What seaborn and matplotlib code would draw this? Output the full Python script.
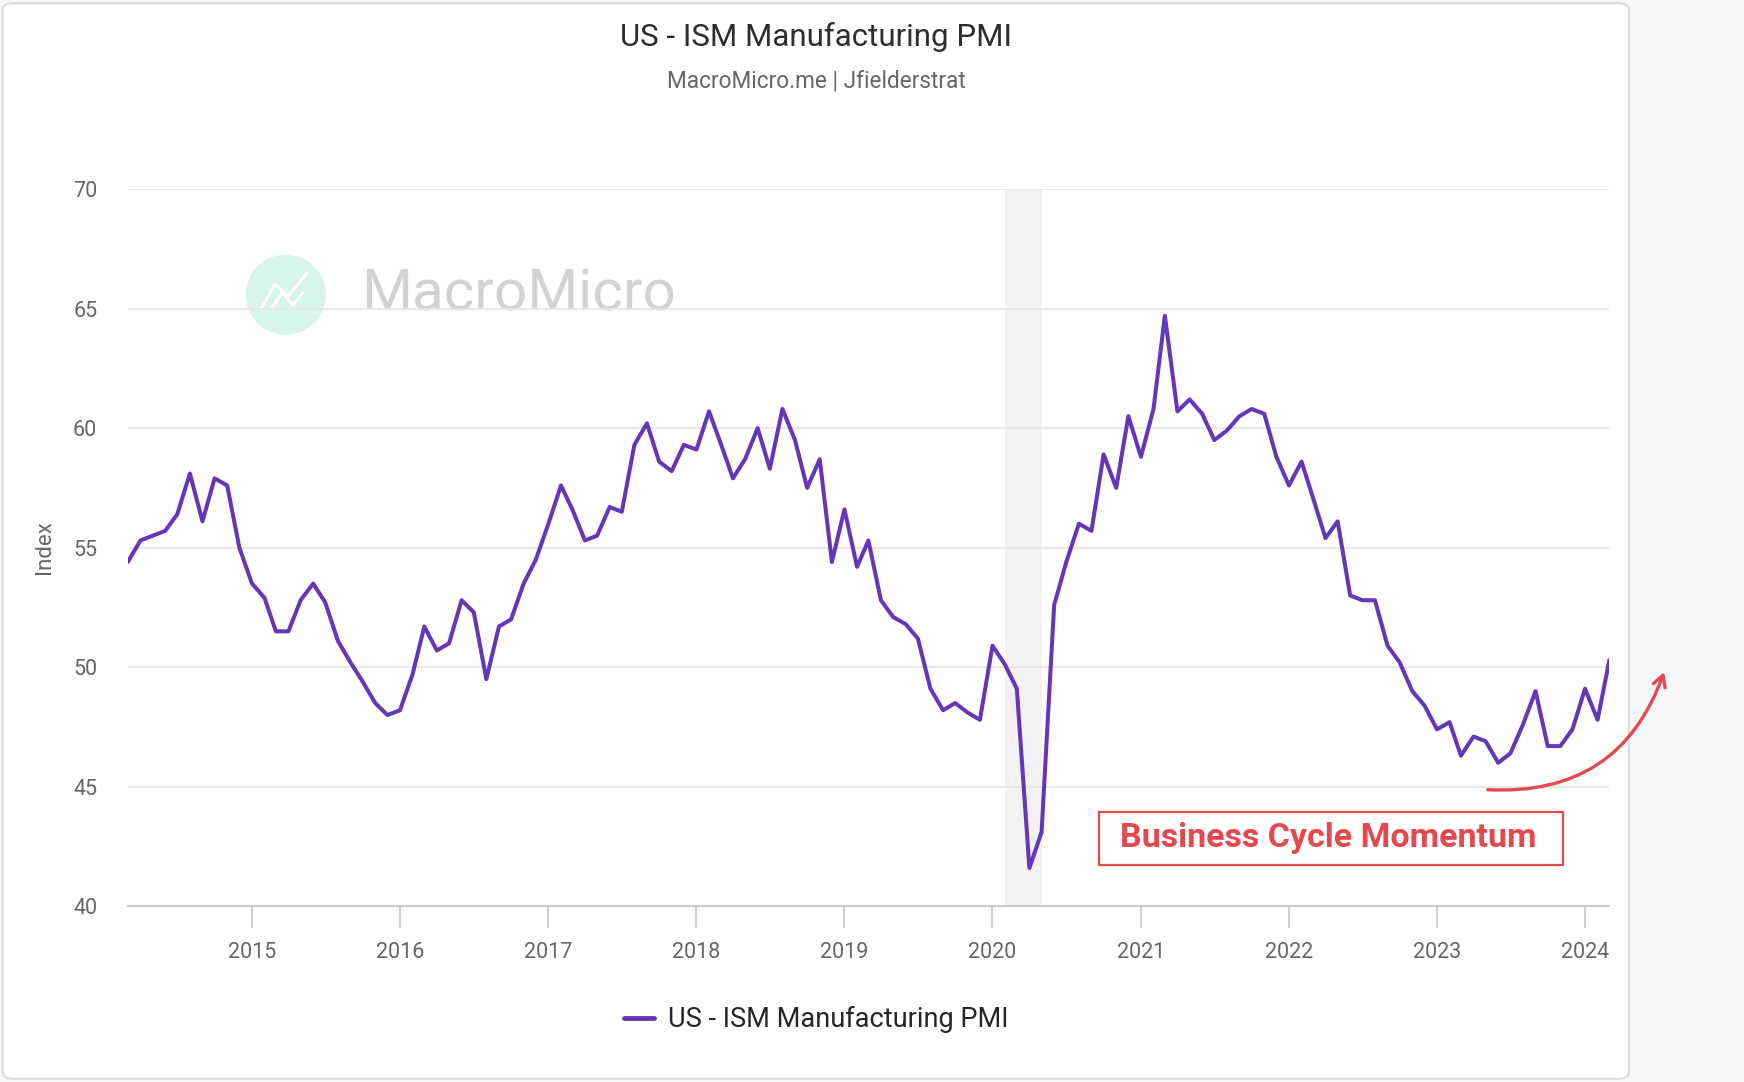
import numpy as np
import pandas as pd
import matplotlib
matplotlib.use("Agg")
import matplotlib.pyplot as plt
import seaborn as sns
from matplotlib.patches import FancyBboxPatch, Rectangle, Ellipse, FancyArrowPatch
from matplotlib.lines import Line2D

# ---------------- data ----------------
start_month = "2014-03-01"
pmi = [
    54.4, 55.3, 55.5, 55.7, 56.4, 58.1, 56.1, 57.9, 57.6, 55.0,              # 2014 Mar-Dec
    53.5, 52.9, 51.5, 51.5, 52.8, 53.5, 52.7, 51.1, 50.2, 49.4, 48.5, 48.0,  # 2015
    48.2, 49.7, 51.7, 50.7, 51.0, 52.8, 52.3, 49.5, 51.7, 52.0, 53.5, 54.5,  # 2016
    56.0, 57.6, 56.6, 55.3, 55.5, 56.7, 56.5, 59.3, 60.2, 58.6, 58.2, 59.3,  # 2017
    59.1, 60.7, 59.4, 57.9, 58.7, 60.0, 58.3, 60.8, 59.5, 57.5, 58.7, 54.4,  # 2018
    56.6, 54.2, 55.3, 52.8, 52.1, 51.8, 51.2, 49.1, 48.2, 48.5, 48.1, 47.8,  # 2019
    50.9, 50.1, 49.1, 41.6, 43.1, 52.6, 54.4, 56.0, 55.7, 58.9, 57.5, 60.5,  # 2020
    58.8, 60.8, 64.7, 60.7, 61.2, 60.6, 59.5, 59.9, 60.5, 60.8, 60.6, 58.8,  # 2021
    57.6, 58.6, 57.1, 55.4, 56.1, 53.0, 52.8, 52.8, 50.9, 50.2, 49.0, 48.4,  # 2022
    47.4, 47.7, 46.3, 47.1, 46.9, 46.0, 46.4, 47.6, 49.0, 46.7, 46.7, 47.4,  # 2023
    49.1, 47.8, 50.3,                                                        # 2024 Jan-Mar
]
series_name = "US - ISM Manufacturing PMI"
recession_start = "2020-02-01"
recession_end = "2020-05-01"
year_ticks = [2015, 2016, 2017, 2018, 2019, 2020, 2021, 2022, 2023, 2024]
y_ticks = [40, 45, 50, 55, 60, 65, 70]

dates = pd.date_range(start_month, periods=len(pmi), freq="MS")
df = pd.DataFrame({"date": dates, "value": pmi, "series": series_name})

# ---------------- style ----------------
sns.set_theme(style="white")
plt.rcParams["font.family"] = ["Roboto", "DejaVu Sans"]

LINE = "#6536b8"
RED = "#e5484d"
GRAY_TXT = "#666666"

fig = plt.figure(figsize=(17.44, 10.82), dpi=100)
fig.patch.set_facecolor("#f7f8fa")

# card background
card = FancyBboxPatch((0.0015, 0.003), 0.9325, 0.994,
                      boxstyle="round,pad=0,rounding_size=0.006",
                      transform=fig.transFigure, facecolor="white",
                      edgecolor="#dcdcdc", linewidth=1.5, zorder=-5)
fig.patches.append(card)

ax = fig.add_axes([0.0733, 0.1624, 0.8495, 0.6629])
ax.set_facecolor("none")
ax.set_zorder(2)

ax.axvspan(pd.Timestamp(recession_start), pd.Timestamp(recession_end),
           color="#f2f2f2", zorder=0, lw=0)

sns.lineplot(data=df, x="date", y="value", ax=ax, color=LINE,
             linewidth=2.9, legend=False, zorder=3)

ax.set_xlim(dates[0], dates[-1])
ax.set_ylim(40, 70)
ax.set_yticks(y_ticks)
ax.set_yticklabels([str(v) for v in y_ticks])
ax.set_xticks([pd.Timestamp(f"{y}-01-01") for y in year_ticks])
ax.set_xticklabels([str(y) for y in year_ticks])
ax.grid(axis="y", color="#e6e6e6", linewidth=1.3, zorder=1)
ax.grid(axis="x", visible=False)
ax.set_axisbelow(True)
for s in ["top", "right", "left"]:
    ax.spines[s].set_visible(False)
ax.spines["bottom"].set_color("#cccccc")
ax.spines["bottom"].set_linewidth(1.5)
ax.tick_params(axis="y", left=False, length=0, pad=22, labelsize=15.5,
               labelcolor=GRAY_TXT)
ax.tick_params(axis="x", bottom=True, length=16, width=1.3, color="#cccccc",
               pad=10, labelsize=15.5, labelcolor=GRAY_TXT, direction="out")
ax.set_xlabel("")
ax.set_ylabel("")
fig.text(0.0255, 0.494, "Index", rotation=90, ha="center", va="center",
         fontsize=16, color=GRAY_TXT)

# titles
fig.text(0.468, 0.966, series_name, ha="center", va="center",
         fontsize=22.5, color="#2e2e2e")
fig.text(0.468, 0.925, "MacroMicro.me | Jfielderstrat", ha="center",
         va="center", fontsize=16.3, color=GRAY_TXT)

# watermark
logo = Ellipse((0.1639, 0.7276), 0.0459, 0.074, transform=fig.transFigure,
               facecolor="#d3f4ea", edgecolor="none", alpha=0.9, zorder=1)
fig.patches.append(logo)
fig.lines.append(Line2D(0.1639 + np.array([-0.014, -0.006, 0.001, 0.006, 0.012]),
                        0.7276 + np.array([-0.012, 0.010, -0.002, 0.008, 0.020]),
                        transform=fig.transFigure, color="white",
                        linewidth=2.2, zorder=1.5))
fig.lines.append(Line2D(0.1639 + np.array([-0.008, -0.002, 0.004, 0.010]),
                        0.7276 + np.array([-0.012, 0.002, -0.010, 0.002]),
                        transform=fig.transFigure, color="white",
                        linewidth=2.2, zorder=1.5))
fig.text(0.2073, 0.7276, "MacroMicro", ha="left", va="center", fontsize=42,
         color="#d2d2d2", fontweight="normal", zorder=1)

# annotation box
box = Rectangle((0.630, 0.2004), 0.266, 0.0493, transform=fig.transFigure,
                facecolor="white", edgecolor=RED, linewidth=1.6, zorder=5)
fig.patches.append(box)
fig.text(0.7618, 0.2255, "Business Cycle Momentum", ha="center", va="center",
         fontsize=24.5, fontweight="bold", color=RED, zorder=6)

# curved arrow
arrow = FancyArrowPatch((0.8514, 0.2703), (0.9547, 0.3813),
                        transform=fig.transFigure,
                        connectionstyle="arc3,rad=0.38",
                        arrowstyle="->,head_length=8,head_width=4.5",
                        color=RED, linewidth=2.4, zorder=6)
fig.patches.append(arrow)

# legend
handle = Line2D([], [], color=LINE, linewidth=3.5)
fig.legend([handle], [series_name], loc="center", bbox_to_anchor=(0.468, 0.0576),
           frameon=False, fontsize=19.5, handlelength=1.1, handletextpad=0.5)

fig.savefig("out.png", dpi=100, facecolor=fig.get_facecolor())
